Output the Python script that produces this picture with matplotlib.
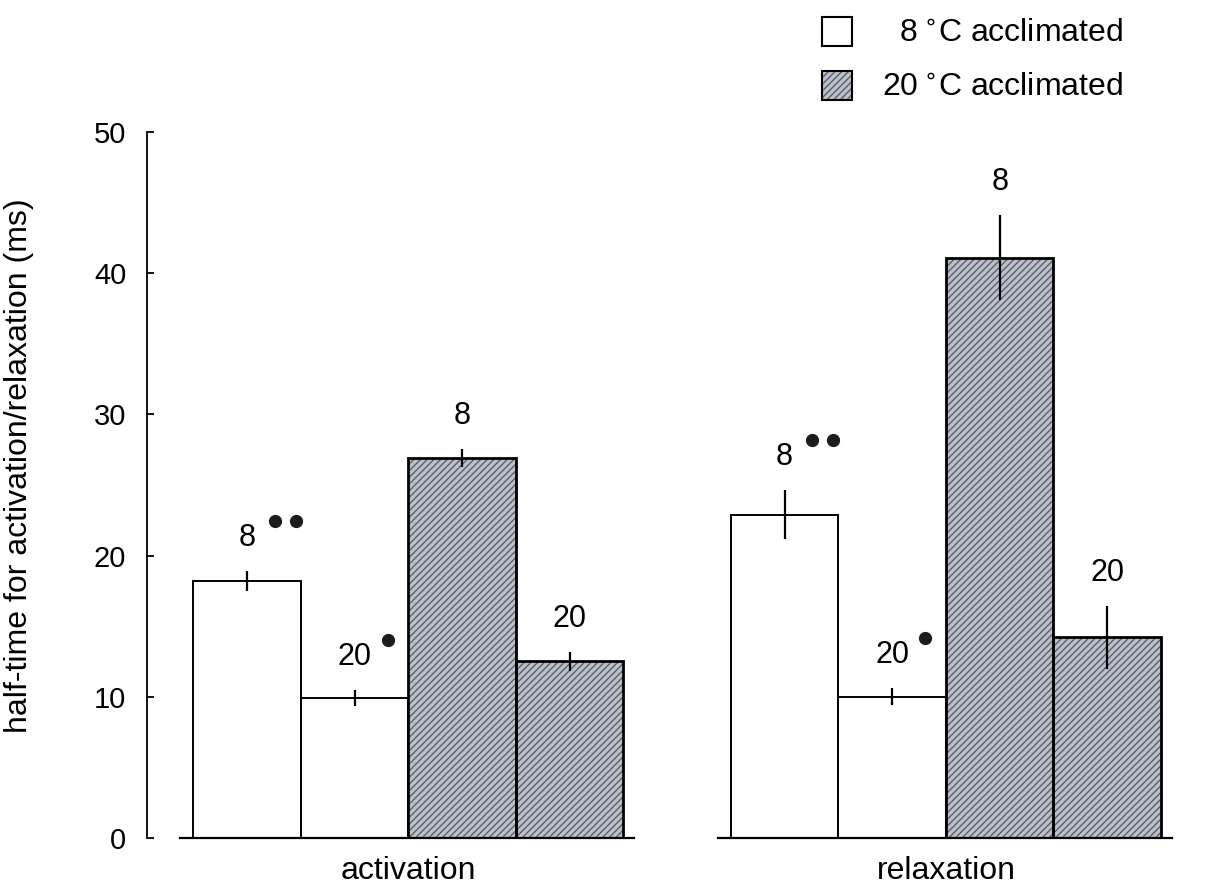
import matplotlib
matplotlib.use("Agg")
import matplotlib.pyplot as plt
import matplotlib.transforms as mtransforms
from matplotlib.patches import Patch
import numpy as np

plt.rcParams['font.family'] = ['Liberation Sans', 'DejaVu Sans']
plt.rcParams['hatch.linewidth'] = 1.0

# dados
grupos = ["activation", "relaxation"]
temp_teste = ["8", "20", "8", "20"]          # temperatura de medida acima de cada barra
aclim = ["8", "8", "20", "20"]                # aclimatacao (8 = branco, 20 = hachurado)
media_act = [18.2, 9.9, 26.9, 12.5]
erro_act = [0.7, 0.55, 0.65, 0.7]
media_rel = [22.9, 10.0, 41.1, 14.2]
erro_rel = [1.75, 0.6, 3.0, 2.2]
pontos_sig = [2, 1, 0, 0]                     # bolinhas de significancia

medias = [media_act, media_rel]
erros = [erro_act, erro_rel]

cor_hach = "#bcc0ca"
cor_linha_hach = "#5c606a"
hach = "/////"

fig = plt.figure(figsize=(12.18, 8.91), dpi=100)
ax = fig.add_axes([0.1207, 0.0595, 0.8563, 0.7924])

offsets = np.array([-1.5, -0.5, 0.5, 1.5])
centros = [0, 5]

for g, c in enumerate(centros):
    xs = c + offsets
    for i, x in enumerate(xs):
        y = medias[g][i]
        e = erros[g][i]
        if aclim[i] == "8":
            ax.bar(x, y, width=1.0, facecolor="white", edgecolor="black", linewidth=1.4, zorder=2)
        else:
            ax.bar(x, y, width=1.0, facecolor=cor_hach, edgecolor=cor_linha_hach,
                   hatch=hach, linewidth=0, zorder=2)
            ax.bar(x, y, width=1.0, fill=False, edgecolor="black", linewidth=2.0, zorder=3)
        ax.errorbar(x, y, yerr=e, fmt="none", ecolor="black", elinewidth=1.6, capsize=0, zorder=4)
        ax.annotate(temp_teste[i], (x, y + e), xytext=(0, 13), textcoords="offset points",
                    ha="center", va="bottom", fontsize=22)
        if pontos_sig[i] > 0:
            base = 24 if pontos_sig[i] == 1 else 20
            for k in range(pontos_sig[i]):
                tr = mtransforms.offset_copy(ax.transData, fig=fig, x=base + 15 * k, y=36, units="points")
                ax.plot([x], [y + e], marker="o", markersize=8.5, color="#1c1c1c",
                        transform=tr, clip_on=False, zorder=5)
    # linha de base de cada grupo
    ax.plot([c - 2.12, c + 2.1], [0, 0], color="black", linewidth=1.6, clip_on=False, zorder=5)

ax.set_xlim(-2.43, 7.27)
ax.set_ylim(0, 50)
ax.set_yticks([0, 10, 20, 30, 40, 50])
ax.set_xticks(centros)
ax.set_xticklabels(grupos, fontsize=23)
ax.tick_params(axis="x", length=0, pad=13)
ax.tick_params(axis="y", direction="in", length=5, width=1.3, pad=15, labelsize=21)

for s in ["top", "right", "bottom"]:
    ax.spines[s].set_visible(False)
ax.spines["left"].set_linewidth(1.3)

ax.set_ylabel("half-time for activation/relaxation (ms)", fontsize=23)
ax.yaxis.set_label_coords(-0.108, 0.527)

h_branco = Patch(facecolor="white", edgecolor="black", linewidth=1.5)
h_hach = (Patch(facecolor=cor_hach, edgecolor=cor_linha_hach, hatch=hach, linewidth=0),
          Patch(fill=False, edgecolor="black", linewidth=1.5))
fig.legend([h_branco, h_hach], ["  8$\\,^{\\circ}$C acclimated", "20$\\,^{\\circ}$C acclimated"],
           loc="upper left", bbox_to_anchor=(0.651, 1.013), frameon=False,
           fontsize=23, handlelength=0.95, handleheight=1.0, handletextpad=0.95,
           labelspacing=0.68)

fig.savefig("out.png", dpi=100)
